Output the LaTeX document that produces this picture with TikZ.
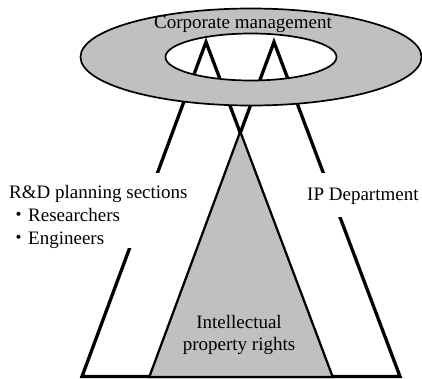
\documentclass[tikz,border=0pt]{standalone}
\usepackage{fontspec}
\setmainfont{Liberation Serif}
\newfontfamily\cjk{Noto Sans CJK JP}
\definecolor{FilledSurface}{RGB}{192,192,192}
\usetikzlibrary{calc, intersections}

\begin{document}
\begin{tikzpicture}[x=1pt, y=-1pt, font=\fontsize{19}{23}\selectfont,
    leg/.style={line width=3.3pt},
    label box/.style={fill=white, inner xsep=1pt, inner ysep=0pt}]

    \useasboundingbox (0,0) rectangle (422,378);

    \def\base{376.5}
    \def\apex{42}
    \coordinate (center) at (251,57);
    \coordinate (apexRD) at (206,\apex);
    \coordinate (apexIP) at (274,\apex);
    \coordinate (RDleft) at (82,\base);
    \coordinate (RDright) at (332,\base);
    \coordinate (IPleft) at (150,\base);
    \coordinate (IPright) at (400,\base);

    % Triangulos de las dos areas
    \draw[leg] (RDleft) -- (apexRD) -- (RDright) -- cycle;
    \draw[leg] (IPleft) -- (apexIP) -- (IPright) -- cycle;

    % Hallar el vertice del triangulo comun
    \path[name path=legRD] (apexRD) -- (RDright);
    \path[name path=legIP] (apexIP) -- (IPleft);
    \path[name intersections={of=legRD and legIP, by=I}];
    \draw[fill=FilledSurface, line width=1.2pt] (I) -- (RDright) -- (IPleft) -- cycle;

    % Anillo de la direccion
    \path[draw, line width=1.7pt, fill=FilledSurface, even odd rule]
        (center) ellipse [x radius=170.5pt, y radius=48.5pt]
        (center) ellipse [x radius=85.5pt, y radius=23.5pt];

    % Textos
    \node[anchor=base] (mgmt) at (243,28) {Corporate management};
    \node[label box, anchor=north west, align=left] (rd) at (8,173)
        {\rule{0pt}{25pt}R\&D planning sections\\{\cjk ・}Researchers\\{\cjk ・}Engineers};
    \node[label box, anchor=base west, text height=27pt, text depth=17pt] (ip) at (306,200) {IP Department};
    \node[anchor=north, align=center, inner sep=0pt, font=\fontsize{19}{22}\selectfont] (ipr) at (239,315.5)
        {Intellectual\\property rights};
\end{tikzpicture}
\end{document}
